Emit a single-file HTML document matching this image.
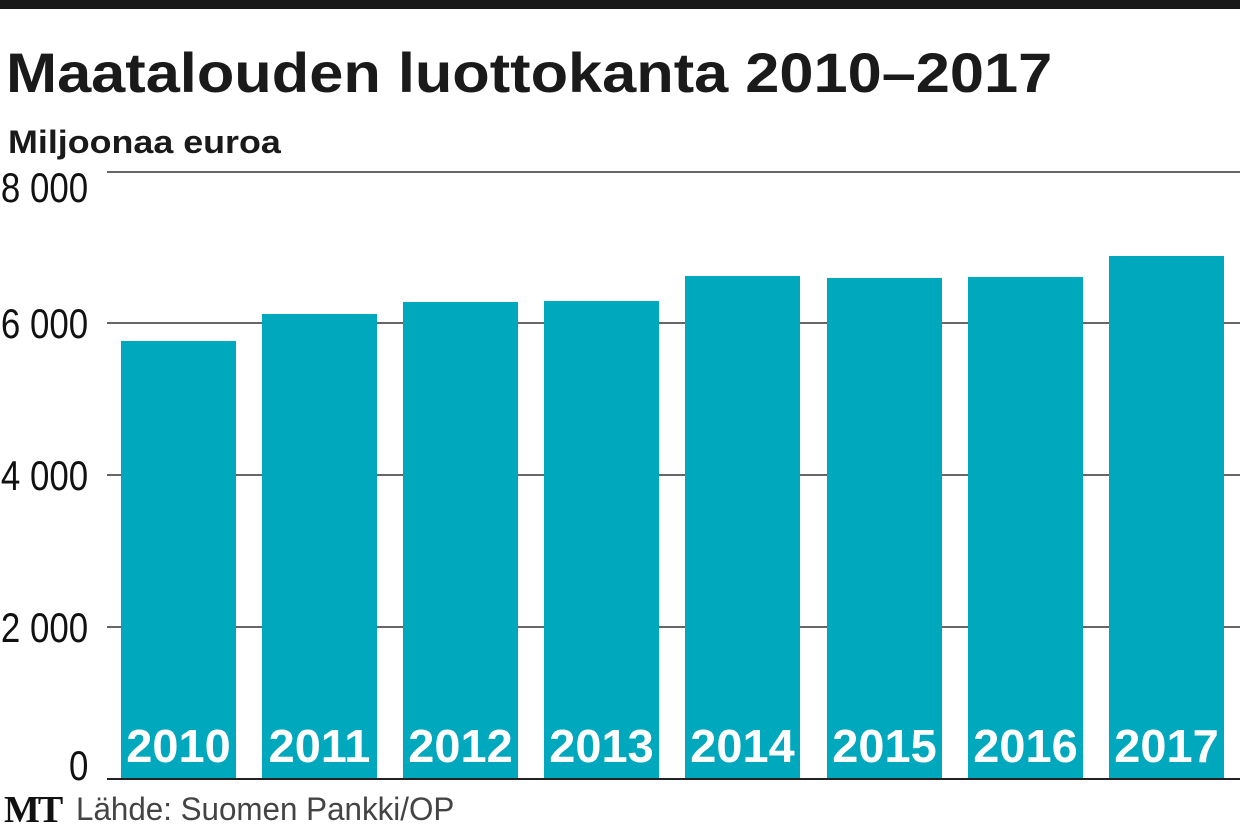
<!DOCTYPE html>
<html><head><style>
body{margin:0;width:1240px;height:835px;background:#fff;overflow:hidden;position:relative;font-family:"Liberation Sans Narrow","Liberation Sans",sans-serif;}
.t{position:absolute;white-space:nowrap;}
.g{position:absolute;left:107px;right:0;height:2px;background:#666;}
.b{position:absolute;background:#00a8bd;bottom:56px;width:115px;}
.bl{position:absolute;bottom:62px;width:115px;text-align:center;color:#fff;font-weight:bold;font-size:46px;white-space:nowrap;font-family:"Liberation Sans",sans-serif;transform:scaleX(1.02);}
.y{position:absolute;right:1152px;font-size:42px;color:#111;white-space:nowrap;transform:scaleX(0.83);transform-origin:right;}
</style></head><body>
<div style="position:absolute;left:0;top:0;width:1240px;height:9px;background:#1a1a1a"></div>
<div class="t" style="left:6px;top:40px;font-size:56px;font-weight:bold;color:#1a1a1a;transform:scaleX(1.095);transform-origin:left">Maatalouden luottokanta 2010–2017</div>
<div class="t" style="left:8px;top:124px;font-size:32px;font-weight:bold;color:#1a1a1a;transform:scaleX(1.12);transform-origin:left">Miljoonaa euroa</div>
<div class="g" style="top:171px"></div>
<div class="g" style="top:322px"></div>
<div class="g" style="top:474px"></div>
<div class="g" style="top:626px"></div>
<div class="y" style="top:164px">8 000</div>
<div class="y" style="top:300px">6 000</div>
<div class="y" style="top:452px">4 000</div>
<div class="y" style="top:604px">2 000</div>
<div class="y" style="top:742px">0</div>
<div class="b" style="left:121px;top:341px"></div>
<div class="b" style="left:262px;top:314px"></div>
<div class="b" style="left:403px;top:302px"></div>
<div class="b" style="left:544px;top:301px"></div>
<div class="b" style="left:685px;top:276px"></div>
<div class="b" style="left:827px;top:278px"></div>
<div class="b" style="left:968px;top:277px"></div>
<div class="b" style="left:1109px;top:256px"></div>
<div class="bl" style="left:121px">2010</div>
<div class="bl" style="left:262px">2011</div>
<div class="bl" style="left:403px">2012</div>
<div class="bl" style="left:544px">2013</div>
<div class="bl" style="left:685px">2014</div>
<div class="bl" style="left:827px">2015</div>
<div class="bl" style="left:968px">2016</div>
<div class="bl" style="left:1109px">2017</div>
<div class="g" style="top:778px;background:#222"></div>
<div class="t" style="left:4px;top:788px;font-size:38px;font-weight:bold;font-family:'Liberation Serif',serif;color:#111;letter-spacing:-2px">MT</div>
<div class="t" style="left:76px;top:791px;font-size:32px;color:#444;transform:scaleX(0.98);transform-origin:left">Lähde: Suomen Pankki/OP</div>
</body></html>
